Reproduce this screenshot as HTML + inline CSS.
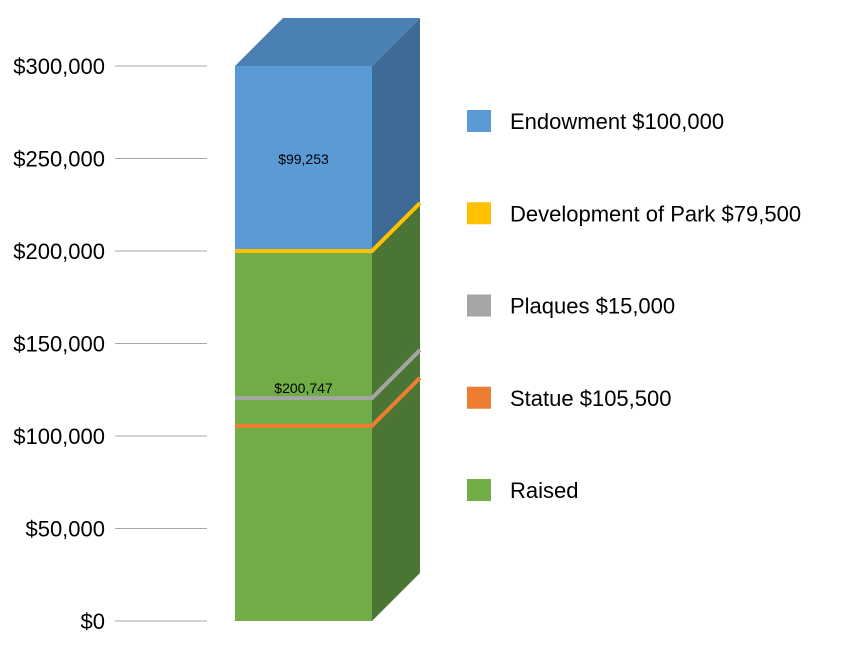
<!DOCTYPE html>
<html><head><meta charset="utf-8"><style>
body{margin:0;background:#fff;font-family:"Liberation Sans",Arial,sans-serif}
svg{display:block}
</style></head><body>
<svg id="chart" width="850" height="650" viewBox="0 0 850 650" xmlns="http://www.w3.org/2000/svg"></svg>
<script>
const tickValues=[0,50000,100000,150000,200000,250000,300000];
const tickLabels=["$0","$50,000","$100,000","$150,000","$200,000","$250,000","$300,000"];
const segNames=["Raised","Endowment"];
const segValues=[200747,99253];
const segLabels=["$200,747","$99,253"];
const lineNames=["Statue","Plaques","Development of Park"];
const lineValues=[105500,120500,200000];
const legendLabels=["Endowment $100,000","Development of Park $79,500","Plaques $15,000","Statue $105,500","Raised"];
const legendColors=["#5b9bd5","#ffc000","#a5a5a5","#ed7d31","#70ad47"];

const svgEl=document.getElementById('chart');
const NS="http://www.w3.org/2000/svg";
const y0=621,yMax=66,vMax=300000;
function yScale(v){return y0-(v/vMax)*(y0-yMax);}
const bx0=235,bx1=372,dx=48,dy=-48;
function mk(tag,attrs){const e=document.createElementNS(NS,tag);for(const k in attrs)e.setAttribute(k,attrs[k]);svgEl.appendChild(e);return e;}

tickValues.forEach((v,i)=>{
  const l=mk('line',{x1:115,x2:207,y1:yScale(v),y2:yScale(v),stroke:'#a6a6a6','stroke-width':1});
  
  
  const t=mk('text',{x:105,y:yScale(v)+8,'text-anchor':'end','font-size':22,fill:'#000'});
  t.textContent=tickLabels[i];
  
  
});

const frontCols=["#70ad47","#5b9bd5"],sideCols=["#4b7534","#3e6b96"];
let acc=0;
segValues.forEach((v,i)=>{
  const ya=yScale(acc),yb=yScale(acc+v);
  const s=mk('polygon',{points:`${bx1},${ya} ${bx1+dx},${ya+dy} ${bx1+dx},${yb+dy} ${bx1},${yb}`,fill:sideCols[i]});
  
  
  const r=mk('rect',{x:bx0,y:yb,width:bx1-bx0,height:ya-yb,fill:frontCols[i]});
  
  
  const ty=(i==0?yScale(acc+v*0.63):(ya+yb)/2)+6;
  const t=mk('text',{x:(bx0+bx1)/2,y:ty,'text-anchor':'middle','font-size':14,fill:'#000'});
  t.textContent=segLabels[i];
  
  
  acc+=v;
});
const topFace=mk('polygon',{points:`${bx0},${yScale(acc)} ${bx0+dx},${yScale(acc)+dy} ${bx1+dx},${yScale(acc)+dy} ${bx1},${yScale(acc)}`,fill:'#4a80b4'});



const lineColors=["#ed7d31","#a5a5a5","#ffc000"];
lineValues.forEach((v,i)=>{
  const yy=yScale(v);
  const l=mk('polyline',{points:`${bx0},${yy} ${bx1},${yy} ${bx1+dx},${yy+dy}`,fill:'none',stroke:lineColors[i],'stroke-width':4});
  
  
});

legendLabels.forEach((lab,i)=>{
  const cy=121+i*92.25;
  const r=mk('rect',{x:467,y:cy-11,width:24,height:22,fill:legendColors[i]});
  
  
  const t=mk('text',{x:510,y:cy+8,'font-size':22,fill:'#000'});
  t.textContent=lab;
  
  
});
</script>
</body></html>
